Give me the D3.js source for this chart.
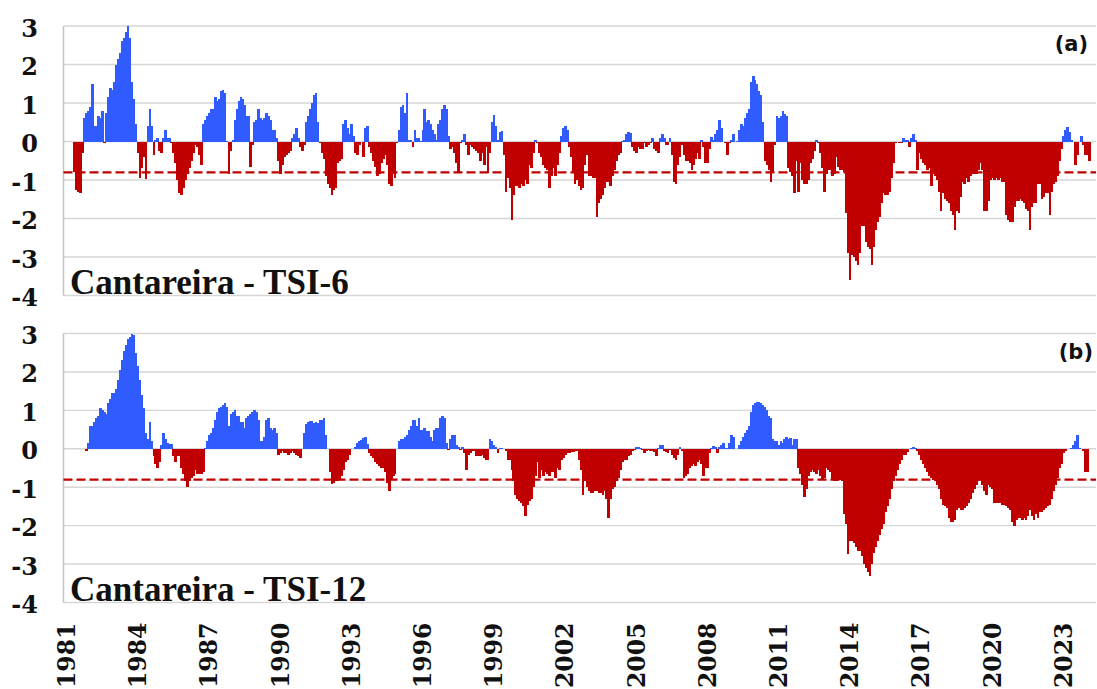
<!DOCTYPE html>
<html>
<head>
<meta charset="utf-8">
<script src="https://d3js.org/d3.v7.min.js"></script>
<style>
  body { margin: 0; background: #fff; }
  svg { display: block; }
  .ylab { font-family: "DejaVu Serif", serif; font-weight: bold; font-size: 24px; fill: #111; }
  .xlab { font-family: "DejaVu Serif", serif; font-weight: bold; font-size: 23.5px; fill: #111; }
  .title { font-family: "Liberation Serif", serif; font-weight: bold; font-size: 35px; fill: #111; }
  .tag { font-family: "DejaVu Sans", sans-serif; font-weight: bold; font-size: 21px; fill: #111; }
</style>
</head>
<body>
<svg width="1097" height="689"></svg>
<script>
// monthly index values, one row per year (Jan..Dec)
var years = [1981,1982,1983,1984,1985,1986,1987,1988,1989,1990,1991,1992,1993,1994,1995,
             1996,1997,1998,1999,2000,2001,2002,2003,2004,2005,2006,2007,2008,2009,2010,
             2011,2012,2013,2014,2015,2016,2017,2018,2019,2020,2021,2022,2023,2024];

var tsi6 = [
  [null,null,null,null,null,-0.8,-1.25,-1.3,-1.35,-0.3,0.6,0.75],
  [0.8,0.9,1.5,0.4,0.4,0.65,0.6,0.8,-0.03,0.75,1.15,1.4],
  [1.35,1.55,2.0,2.15,2.3,2.6,2.7,2.85,3.0,2.7,1.55,1.1],
  [0.45,-0.3,-0.95,-0.7,-0.4,-0.98,0.4,0.85,0.4,-0.35,0.03,0.1],
  [-0.25,-0.3,0.1,0.3,0.1,0.1,-0.05,-0.3,-0.55,-1.0,-1.35,-1.4],
  [-1.2,-1.0,-0.85,-0.7,-0.5,-0.3,-0.1,-0.15,-0.35,-0.6,0.45,0.55],
  [0.65,0.75,0.85,0.85,1.15,1.05,1.1,1.3,1.35,1.25,0.02,-0.85],
  [-0.25,0.05,0.55,0.85,1.05,1.15,1.1,0.95,0.65,0.65,-0.65,-0.1],
  [0.5,0.55,0.85,0.6,0.55,0.6,0.75,0.65,0.55,0.3,0.3,0.1],
  [-0.5,-0.85,-0.6,-0.4,-0.35,-0.3,-0.25,0.1,0.2,0.35,0.1,-0.15],
  [-0.25,-0.1,0.5,0.65,0.85,1.0,1.2,1.25,0.5,-0.05,-0.3,-0.45],
  [-0.9,-1.1,-1.2,-1.4,-1.25,-1.2,-0.55,-0.5,-0.45,0.45,0.55,0.35],
  [0.2,0.45,0.15,-0.3,-0.35,-0.1,0,-0.4,0.35,0.4,-0.15,-0.3],
  [-0.5,-0.65,-0.9,-0.85,-0.55,-0.45,-0.35,-0.6,-1.1,-1.15,-0.85,-0.95],
  [-0.05,0.3,0.9,0.95,0.75,1.25,0.05,0.05,-0.15,0.3,0.1,0.1],
  [0.02,0.3,0.85,0.5,0.55,0.45,0.3,0.2,0.05,0.45,0.55,0.85],
  [0.95,0.85,0.15,-0.2,-0.15,-0.3,-0.55,-0.82,-0.05,0.05,0.2,-0.1],
  [-0.35,-0.1,-0.15,-0.2,-0.25,-0.3,-0.5,-0.3,-0.6,-0.15,-0.82,-0.3],
  [0.5,0.7,0.4,0.05,0.25,0.28,-0.35,-1.3,-0.95,-1.2,-2.05,-1.4],
  [-1.15,-1.15,-1.2,-1.1,-1.15,-1.0,-1.1,-0.6,-0.7,-0.3,0.03,-0.05],
  [-0.3,-0.4,-0.6,-0.7,-0.75,-1.2,-0.9,-0.7,-0.9,-0.6,-0.3,0.15],
  [0.35,0.4,0.3,-0.15,-0.4,-0.8,-1.1,-1.0,-1.15,-1.25,-1.2,-0.6],
  [-0.35,-0.9,-0.9,-0.95,-0.95,-1.95,-1.6,-1.5,-1.4,-1.2,-1.05,-1.05],
  [-1.15,-0.9,-0.75,-0.5,-0.35,-0.3,0.02,0.05,0.2,0.25,0.22,-0.15],
  [-0.25,-0.3,-0.15,-0.2,-0.2,-0.05,-0.15,-0.1,-0.05,0.1,-0.2,-0.25],
  [-0.3,0.1,0.2,0.1,-0.1,-0.1,0.08,-0.35,-1.05,-1.1,-0.6,-0.4],
  [-0.1,-0.35,-0.5,-0.5,-0.55,-0.75,-0.6,-0.45,-0.3,-0.45,0.03,-0.15],
  [-0.55,-0.55,-0.2,0.12,0.05,0.2,0.3,0.55,0.35,-0.02,-0.05,-0.35],
  [-0.05,0.05,0.2,0.0,0.02,0.3,0.45,0.4,0.6,0.75,0.85,1.55],
  [1.7,1.6,1.5,1.3,1.2,0.5,-0.5,-0.6,-0.75,-1.05,-0.8,-0.1],
  [0.65,0.6,0.65,0.8,0.72,0.65,-0.7,-0.8,-0.9,-1.35,-0.5,-1.3],
  [-0.55,-1.0,-1.1,-1.1,-1.0,-0.55,-0.45,-0.25,0.05,-0.05,-0.3,-0.7],
  [-1.3,-0.85,-0.75,-0.75,-0.9,-0.85,-0.4,-0.65,-0.75,-0.75,-0.8,-1.85],
  [-2.9,-3.6,-2.95,-3.0,-3.1,-3.2,-2.9,-2.2,-2.2,-2.6,-2.75,-2.8],
  [-3.2,-2.75,-2.3,-2.1,-1.95,-1.6,-1.35,-1.4,-1.4,-1.3,-0.95,-0.55],
  [-0.05,-0.02,-0.05,-0.05,0.1,0.05,0.05,-0.15,0.1,0.2,0.03,-0.75],
  [-0.3,-0.45,-0.55,-0.6,-0.75,-0.7,-1.15,-0.85,-0.9,-1.0,-1.3,-1.8],
  [-1.35,-1.5,-1.55,-1.6,-1.8,-1.9,-2.3,-1.8,-1.85,-1.45,-1.05,-1.1],
  [-0.95,-1.05,-0.9,-0.85,-0.85,-0.85,-0.75,-0.55,-0.75,-1.8,-1.8,-1.55],
  [-1.0,-0.95,-1.0,-0.95,-1.0,-0.95,-1.05,-1.05,-1.9,-2.05,-2.1,-2.1],
  [-1.7,-1.55,-1.55,-1.5,-1.55,-1.6,-1.75,-1.8,-2.3,-1.7,-1.6,-1.6],
  [-1.1,-1.1,-1.5,-1.45,-1.35,-1.35,-1.9,-1.3,-1.1,-1.05,-0.9,-0.5],
  [-0.2,0.15,0.3,0.38,0.25,0.05,-0.02,-0.6,-0.35,0.0,0.15,-0.1],
  [-0.35,-0.35,-0.5,null,null,null]
];

var tsi12 = [
  [null,null,null,null,null,null,null,null,null,null,null,-0.05],
  [0.15,0.6,0.6,0.7,0.8,0.85,1.05,1.0,0.95,0.9,1.2,1.3],
  [1.45,1.45,1.55,1.8,2.05,2.3,2.55,2.7,2.85,2.9,3.0,2.95],
  [2.5,2.15,1.8,1.4,1.05,0.4,0.25,0.7,0.2,-0.2,-0.4,-0.5],
  [-0.35,0.1,0.4,0.25,0.15,0.12,0.12,-0.2,-0.35,-0.2,-0.2,-0.5],
  [-0.65,-0.85,-1.0,-0.85,-0.75,-0.7,-0.55,-0.65,-0.65,-0.65,-0.6,0.02],
  [0.2,0.35,0.4,0.55,0.75,0.95,1.05,1.1,1.15,1.2,1.1,0.6],
  [0.9,0.95,1.0,0.85,0.85,0.7,0.7,0.55,0.8,0.85,0.9,0.95],
  [1.0,0.95,0.75,0.2,0.2,0.3,0.75,0.8,0.55,0.5,0.55,0.4],
  [-0.15,-0.1,-0.05,-0.12,-0.12,-0.15,-0.1,-0.05,-0.1,-0.15,-0.2,-0.25],
  [0.0,0.4,0.65,0.7,0.72,0.72,0.68,0.7,0.68,0.75,0.75,0.8],
  [0.35,0.0,-0.6,-0.92,-0.9,-0.85,-0.85,-0.8,-0.7,-0.55,-0.35,-0.3],
  [-0.15,0.0,0.0,0.05,0.15,0.2,0.22,0.28,0.3,0.12,-0.1,-0.2],
  [-0.25,-0.35,-0.4,-0.45,-0.5,-0.5,-0.6,-0.9,-1.1,-0.8,-0.7,-0.65],
  [0.0,0.2,0.25,0.25,0.3,0.35,0.5,0.6,0.75,0.75,0.6,0.8],
  [0.5,0.5,0.55,0.45,0.45,0.3,0.2,0.5,0.55,0.55,0.8,0.85],
  [0.8,0.15,-0.02,0.25,0.35,0.35,0.1,0.05,-0.03,0.05,-0.1,-0.55],
  [-0.15,-0.1,-0.05,-0.05,-0.2,-0.2,-0.2,-0.15,-0.25,-0.3,-0.3,0.25],
  [0.2,0.1,0.05,-0.1,0.03,0.02,0.0,-0.05,-0.3,-0.3,-0.55,-0.85],
  [-1.2,-1.3,-1.35,-1.4,-1.5,-1.75,-1.45,-1.35,-1.3,-1.0,-0.7,-0.35],
  [-0.75,-0.55,-0.7,-0.6,-0.65,-0.7,-0.6,-0.6,-0.75,-0.5,-0.55,-0.3],
  [-0.25,-0.15,-0.1,-0.1,-0.08,-0.08,-0.05,-0.05,-0.3,-0.55,-1.2,-0.85],
  [-1.0,-1.1,-1.15,-1.15,-1.1,-1.1,-1.15,-1.15,-1.2,-1.1,-1.3,-1.8],
  [-1.3,-1.05,-1.0,-0.85,-0.75,-0.55,-0.35,-0.3,-0.3,-0.2,-0.15,-0.05],
  [-0.03,0.05,0.05,0.02,-0.03,-0.1,-0.05,-0.03,-0.05,-0.05,-0.08,-0.2],
  [0.03,0.1,0.1,-0.05,-0.08,-0.1,-0.02,-0.15,-0.25,-0.3,-0.15,0.05],
  [-0.05,-0.75,-0.72,-0.65,-0.5,-0.45,-0.4,-0.45,-0.35,-0.3,-0.4,-0.7],
  [-0.5,-0.5,-0.1,0.02,0.08,0.05,-0.1,0.05,0.1,0.15,0.03,0.02],
  [0.15,0.35,0.3,0.0,0.0,0.1,0.2,0.3,0.4,0.5,0.6,0.95],
  [1.15,1.2,1.22,1.22,1.2,1.15,1.1,1.0,0.85,0.8,0.25,0.2],
  [0.2,0.1,0.2,0.15,0.25,0.3,0.25,0.28,0.1,0.25,0.25,-0.5],
  [-0.65,-0.95,-1.25,-1.05,-0.7,-0.6,-0.55,-0.6,-0.65,-0.55,-0.7,-0.8],
  [-0.75,-0.5,-0.55,-0.6,-0.8,-0.85,-0.85,-0.8,-0.8,-0.85,-1.7,-1.95],
  [-2.75,-2.4,-2.4,-2.45,-2.55,-2.65,-2.65,-2.8,-3.0,-3.1,-3.2,-3.3],
  [-3.0,-2.7,-2.55,-2.4,-2.25,-2.1,-1.95,-1.65,-1.5,-1.3,-1.05,-0.85],
  [-0.7,-0.55,-0.4,-0.3,-0.15,-0.15,-0.08,0.0,0.02,0.05,0.03,-0.05],
  [-0.15,-0.3,-0.4,-0.5,-0.6,-0.7,-0.75,-0.8,-0.85,-0.95,-1.05,-1.3],
  [-1.45,-1.5,-1.55,-1.8,-1.9,-1.9,-1.85,-1.6,-1.55,-1.6,-1.6,-1.55],
  [-1.5,-1.4,-1.3,-1.15,-1.05,-0.95,-0.85,-0.8,-0.95,-1.1,-1.2,-0.95],
  [-1.0,-1.05,-1.4,-1.4,-1.4,-1.4,-1.45,-1.45,-1.5,-1.55,-1.6,-1.9],
  [-2.0,-1.85,-1.8,-1.8,-1.85,-1.8,-1.85,-1.75,-1.6,-1.75,-1.85,-1.7],
  [-1.8,-1.65,-1.65,-1.6,-1.55,-1.5,-1.45,-1.3,-1.1,-0.95,-0.75,-0.5],
  [-0.4,-0.1,-0.05,0.0,0.0,0.02,0.1,0.2,0.35,0.02,0.0,-0.05],
  [-0.6,-0.6,null,null,null,null]
];

var threshold = -0.8;
var yTicks = [3, 2, 1, 0, -1, -2, -3, -4];
var xTickYears = [1981,1984,1987,1990,1993,1996,1999,2002,2005,2008,2011,2014,2017,2020,2023];

var blue = "#2f5bff", red = "#c00000";

function flatten(rows) {
  var out = [];
  rows.forEach(function(r, yi) {
    r.forEach(function(v, mi) { out.push({ year: years[yi], month: mi, v: v }); });
  });
  return out;
}

var s6 = flatten(tsi6), s12 = flatten(tsi12);
var left = 63.5, right = 1096;

var x = d3.scaleBand()
  .domain(s6.map(function(d) { return d.year + "-" + d.month; }))
  .range([left, right])
  .padding(0);
var bw = x.bandwidth();

var svg = d3.select("svg");

var panels = [
  { data: s6, top: 26, bottom: 295.5, title: "Cantareira - TSI-6", tag: "(a)", tagX: 1088 },
  { data: s12, top: 333.5, bottom: 602.5, title: "Cantareira - TSI-12", tag: "(b)", tagX: 1093 }
];

panels.forEach(function(p) {
  var y = d3.scaleLinear().domain([-4, 3]).range([p.bottom, p.top]);
  var g = svg.append("g");

  g.selectAll("line.grid").data(yTicks).enter().append("line")
    .attr("class", "grid")
    .attr("x1", left).attr("x2", right)
    .attr("y1", function(d) { return y(d); })
    .attr("y2", function(d) { return y(d); })
    .attr("stroke", "#d6d6d6").attr("stroke-width", 1.4);

  g.append("line")
    .attr("x1", left).attr("x2", left)
    .attr("y1", y(3)).attr("y2", y(-4))
    .attr("stroke", "#c4c4c4").attr("stroke-width", 1.5);

  g.append("g").attr("shape-rendering", "crispEdges")
    .selectAll("rect").data(p.data.filter(function(d) { return d.v !== null; }))
    .enter().append("rect")
    .attr("x", function(d) { return x(d.year + "-" + d.month); })
    .attr("width", bw + 0.7)
    .attr("y", function(d) { return Math.min(y(d.v), y(0)); })
    .attr("height", function(d) { return Math.abs(y(d.v) - y(0)); })
    .attr("fill", function(d) { return d.v >= 0 ? blue : red; });

  g.append("line")
    .attr("x1", left).attr("x2", right)
    .attr("y1", y(threshold)).attr("y2", y(threshold))
    .attr("stroke", red).attr("stroke-width", 2.3)
    .attr("stroke-dasharray", "9,4");

  g.selectAll("text.ylab").data(yTicks).enter().append("text")
    .attr("class", "ylab")
    .attr("x", 38)
    .attr("y", function(d) { return y(d) + 10.5; })
    .attr("text-anchor", "end")
    .text(function(d) { return d; });

  g.append("text").attr("class", "title")
    .attr("x", 70).attr("y", p.bottom - 1.5)
    .text(p.title);

  g.append("text").attr("class", "tag")
    .attr("x", p.tagX).attr("y", p.top + 25)
    .attr("text-anchor", "end")
    .text(p.tag);
});

svg.selectAll("text.xlab").data(xTickYears).enter().append("text")
  .attr("class", "xlab")
  .attr("transform", function(d) {
    var cx = x(d + "-0") + bw / 2 + 2;
    return "translate(" + cx + ",688) rotate(-90)";
  })
  .attr("dy", "0.36em")
  .text(function(d) { return d; });
</script>
</body>
</html>
